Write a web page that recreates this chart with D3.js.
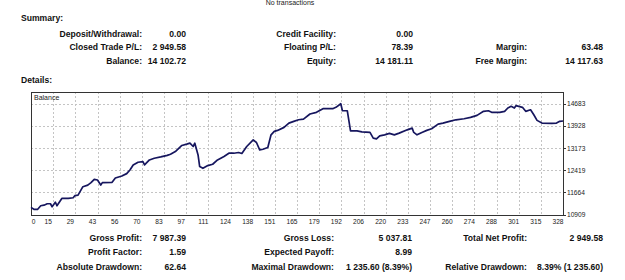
<!DOCTYPE html>
<html>
<head>
<meta charset="utf-8">
<script src="https://cdn.jsdelivr.net/npm/d3@7"></script>
<style>
  body { margin: 0; background: #fff; }
  svg { display: block; }
  .lbl { font-family: "Liberation Sans", Arial, sans-serif; font-weight: bold; font-size: 8.6px; fill: #111; }
  .ax { font-family: "Liberation Sans", Arial, sans-serif; font-size: 6.6px; fill: #222; }
</style>
</head>
<body>
<div id="chart"></div>
<script>
// balance curve (trade number / balance)
var tradeNo = [0, 2, 4, 6, 8, 10, 12, 13, 15, 16, 19, 23, 26, 27, 29, 32, 35, 37, 39, 41, 43, 44, 50, 52, 56, 59, 61, 63, 66, 69, 70, 73, 76, 80, 84, 86, 89, 93, 96, 98, 100, 101, 103, 104, 106, 109, 112, 115, 119, 122, 125, 128, 130, 133, 137, 139, 141, 143, 146, 148, 150, 152, 156, 159, 162, 165, 168, 172, 176, 180, 186, 188, 191, 192, 195, 197, 201, 204, 209, 211, 213, 215, 218, 221, 224, 227, 232, 235, 236, 238, 241, 244, 247, 251, 254, 258, 262, 267, 271, 275, 279, 282, 284, 289, 292, 294, 296, 298, 299, 303, 305, 308, 310, 312, 315, 321, 324, 326, 328];
var balance = [11153, 11081, 11081, 11207, 11228, 11276, 11276, 11173, 11331, 11207, 11458, 11458, 11482, 11551, 11571, 11859, 11914, 11997, 12110, 12086, 11914, 11997, 12007, 12154, 12223, 12305, 12429, 12601, 12693, 12717, 12601, 12772, 12830, 12875, 12930, 12968, 13060, 13266, 13311, 13345, 13232, 13345, 12944, 12546, 12487, 12580, 12625, 12772, 12889, 13002, 13002, 13026, 12992, 13232, 13458, 13369, 13115, 13139, 13197, 13630, 13746, 13781, 13884, 14031, 14090, 14144, 14168, 14340, 14398, 14522, 14522, 14570, 14693, 14453, 14453, 13767, 13767, 13733, 13712, 13517, 13493, 13596, 13630, 13678, 13630, 13688, 13801, 13860, 13712, 13630, 13712, 13781, 13836, 13997, 14031, 14090, 14144, 14179, 14227, 14295, 14433, 14453, 14398, 14398, 14433, 14546, 14604, 14546, 14625, 14570, 14433, 14487, 14316, 14124, 14031, 14021, 14031, 14090, 14103];

var xTickLabels = ["0", "15", "29", "43", "56", "70", "83", "97", "111", "124", "138", "151", "165", "179", "192", "206", "220", "233", "247", "260", "274", "288", "301", "315", "328"];
var yTickValues = [10909, 11664, 12419, 13173, 13928, 14683];

// summary block
var summaryCol1 = ["Deposit/Withdrawal:", "Closed Trade P/L:", "Balance:"];
var summaryVal1 = ["0.00", "2 949.58", "14 102.72"];
var summaryCol2 = ["Credit Facility:", "Floating P/L:", "Equity:"];
var summaryVal2 = ["0.00", "78.39", "14 181.11"];
var summaryCol3 = ["", "Margin:", "Free Margin:"];
var summaryVal3 = ["", "63.48", "14 117.63"];

// details block under the chart
var detailCol1 = ["Gross Profit:", "Profit Factor:", "Absolute Drawdown:"];
var detailVal1 = ["7 987.39", "1.59", "62.64"];
var detailCol2 = ["Gross Loss:", "Expected Payoff:", "Maximal Drawdown:"];
var detailVal2 = ["5 037.81", "8.99", "1 235.60 (8.39%)"];
var detailCol3 = ["Total Net Profit:", "", "Relative Drawdown:"];
var detailVal3 = ["2 949.58", "", "8.39% (1 235.60)"];

var W = 625, H = 280;
var svg = d3.select("#chart").append("svg")
    .attr("width", W)
    .attr("height", H);

// header line (sits right at the top edge)
svg.append("text").attr("class", "ax")
    .attr("x", 290).attr("y", 5)
    .attr("text-anchor", "middle")
    .style("font-size", "7px")
    .text("No transactions");

svg.append("text").attr("class", "lbl").attr("x", 21).attr("y", 21).text("Summary:");
svg.append("text").attr("class", "lbl").attr("x", 21).attr("y", 83).text("Details:");

function statBlock(labels, values, labelX, valueX, y0, step) {
    labels.forEach(function(t, i) {
        if (!t) return;
        svg.append("text").attr("class", "lbl")
            .attr("x", labelX).attr("y", y0 + i * step)
            .attr("text-anchor", "end").text(t);
        svg.append("text").attr("class", "lbl")
            .attr("x", valueX).attr("y", y0 + i * step)
            .attr("text-anchor", "end").text(values[i]);
    });
}
statBlock(summaryCol1, summaryVal1, 142, 186, 36.5, 13.6);
statBlock(summaryCol2, summaryVal2, 336, 413, 36.5, 13.6);
statBlock(summaryCol3, summaryVal3, 527, 603, 36.5, 13.6);

statBlock(detailCol1, detailVal1, 142, 186, 241, 14.3);
statBlock(detailCol2, detailVal2, 334, 412, 241, 14.3);
statBlock(detailCol3, detailVal3, 527, 603, 241, 14.3);

// chart frame
var plotLeft = 31, plotTop = 92, plotRight = 563, plotBottom = 215;

var x = d3.scaleLinear().domain([0, 328]).range([plotLeft, plotRight]);
var xGrid = d3.scalePoint().domain(xTickLabels).range([plotLeft, plotRight]);
var y = d3.scaleLinear().domain([10909, 14683]).range([214.5, 104]);

var g = svg.append("g");

// dashed grid
g.selectAll("line.vg")
    .data(xTickLabels.slice(1, -1))
    .enter().append("line")
    .attr("class", "vg")
    .attr("x1", function(d) { return Math.round(xGrid(d)) + 0.5; })
    .attr("x2", function(d) { return Math.round(xGrid(d)) + 0.5; })
    .attr("y1", plotTop).attr("y2", plotBottom)
    .style("stroke", "#c4c4c4")
    .style("stroke-dasharray", "2,2");

g.selectAll("line.hg")
    .data(yTickValues.slice(1))
    .enter().append("line")
    .attr("class", "hg")
    .attr("x1", plotLeft).attr("x2", plotRight)
    .attr("y1", function(d) { return Math.round(y(d)) + 0.5; })
    .attr("y2", function(d) { return Math.round(y(d)) + 0.5; })
    .style("stroke", "#c4c4c4")
    .style("stroke-dasharray", "2,2");

g.append("rect")
    .attr("x", plotLeft + 0.5).attr("y", plotTop + 0.5)
    .attr("width", plotRight - plotLeft).attr("height", plotBottom - plotTop)
    .style("fill", "none")
    .style("stroke", "#333");

g.append("text").attr("class", "ax")
    .attr("x", plotLeft + 3).attr("y", plotTop + 7.5)
    .style("font-size", "7px")
    .text("Balance");

// balance line
var pts = tradeNo.map(function(d, i) { return [d, balance[i]]; });
var valueline = d3.line()
    .x(function(d) { return x(d[0]); })
    .y(function(d) { return y(d[1]); });

g.append("path")
    .datum(pts)
    .attr("d", valueline)
    .style("fill", "none")
    .style("stroke", "#16165e")
    .style("stroke-width", 1.7)
    .style("stroke-linejoin", "round");

// x labels
g.selectAll("text.xl")
    .data(xTickLabels)
    .enter().append("text")
    .attr("class", "ax xl")
    .attr("x", function(d, i) { return i === 0 ? xGrid(d) + 2.5 : xGrid(d) - 5; })
    .attr("y", 224)
    .attr("text-anchor", "middle")
    .text(function(d) { return d; });

// y labels with small ticks on the right
g.selectAll("line.yt")
    .data(yTickValues)
    .enter().append("line")
    .attr("class", "yt")
    .attr("x1", plotRight).attr("x2", plotRight + 3)
    .attr("y1", function(d) { return Math.round(y(d)) + 0.5; })
    .attr("y2", function(d) { return Math.round(y(d)) + 0.5; })
    .style("stroke", "#333");

g.selectAll("text.yl")
    .data(yTickValues)
    .enter().append("text")
    .attr("class", "ax yl")
    .attr("x", plotRight + 4)
    .attr("y", function(d) { return y(d) + 2.3; })
    .text(function(d) { return d; });
</script>
</body>
</html>
